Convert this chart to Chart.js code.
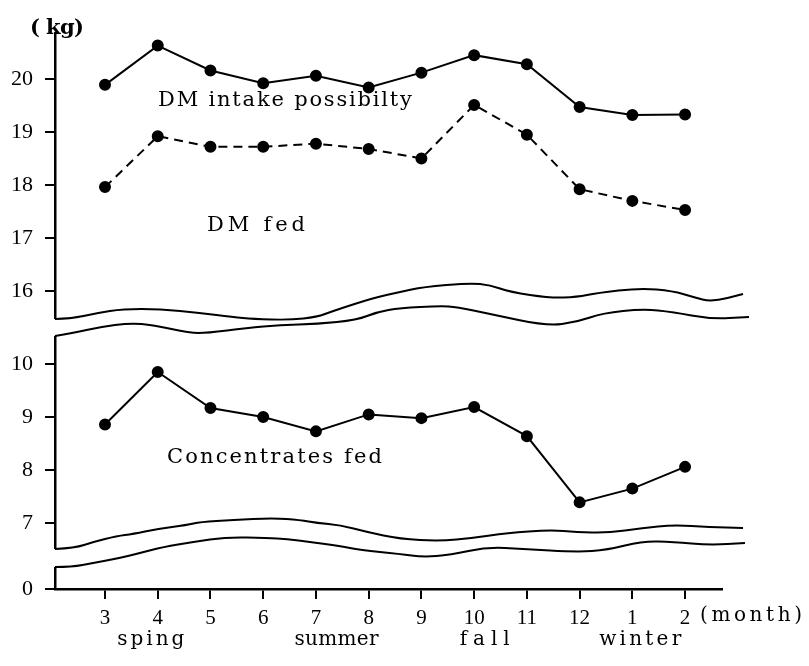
<!DOCTYPE html>
<html>
<head>
<meta charset="utf-8">
<script src="https://cdn.jsdelivr.net/npm/chart.js@4/dist/chart.umd.min.js"></script>
<style>
  html, body { margin: 0; padding: 0; background: #fff; }
  #wrap { width: 809px; height: 666px; position: relative; }
</style>
</head>
<body>
<div id="wrap"><canvas id="dmChart"></canvas></div>
<script>
// values
const months = ['3', '4', '5', '6', '7', '8', '9', '10', '11', '12', '1', '2'];
const dmIntakePossibility = [19.89, 20.63, 20.16, 19.92, 20.06, 19.84, 20.12, 20.45, 20.28, 19.47, 19.32, 19.33];
const dmFed = [17.96, 18.92, 18.72, 18.72, 18.78, 18.68, 18.50, 19.51, 18.95, 17.92, 17.70, 17.53];
const concentratesFed = [8.86, 9.85, 9.17, 9.00, 8.73, 9.05, 8.98, 9.19, 8.64, 7.39, 7.65, 8.06];
const upperTicks = [16, 17, 18, 19, 20];
const middleTicks = [7, 8, 9, 10];
const lowerTicks = [0];
const seasons = ['sping', 'summer', 'fall', 'winter'];

const FONT = "'Liberation Serif', 'DejaVu Serif', serif";
const TEXT_FONT = "'DejaVu Serif', 'Liberation Serif', serif";

function toPoints(values) {
    return values.map((v, i) => ({ x: i, y: v }));
}

// wavy break bands (pixel paths, decoration only)
const breakBands = [
    {
        top: [[55,319],[70,319],[97,313],[123,309],[160,309],[200,313],[233,317],[253,319],[290,320],[317,317],[333,311],[373,298],[400,292],[423,287],[470,283],[490,285],[510,292],[550,298],[577,297],[597,293],[640,288],[673,291],[693,297],[712,302],[743,294]],
        bottom: [[55,336],[73,333],[100,327],[130,323],[153,325],[190,333],[207,333],[247,328],[280,325],[317,324],[357,320],[377,312],[400,308],[440,306],[457,307],[490,314],[547,326],[577,322],[603,313],[643,309],[673,312],[710,319],[749,317]]
    },
    {
        top: [[55,549],[75,548],[93,542],[117,536],[133,534],[157,529],[187,525],[200,522],[233,520],[273,518],[300,520],[317,523],[340,525],[367,532],[400,539],[440,541],[473,538],[507,533],[550,530],[577,532],[607,533],[643,528],[673,525],[710,527],[743,528]],
        bottom: [[55,567],[72,567],[93,563],[120,558],[140,553],[163,547],[193,542],[227,537],[267,538],[287,539],[310,542],[340,546],[360,550],[400,554],[423,557],[450,555],[487,547],[523,549],[577,552],[607,550],[643,541],[673,542],[710,545],[745,543]]
    }
];

function tracePath(ctx, pts, moveFirst) {
    if (moveFirst) ctx.moveTo(pts[0][0], pts[0][1]); else ctx.lineTo(pts[0][0], pts[0][1]);
    for (let i = 1; i < pts.length - 1; i++) {
        const mx = (pts[i][0] + pts[i + 1][0]) / 2;
        const my = (pts[i][1] + pts[i + 1][1]) / 2;
        ctx.quadraticCurveTo(pts[i][0], pts[i][1], mx, my);
    }
    const last = pts[pts.length - 1];
    ctx.lineTo(last[0], last[1]);
}

// draw text stretched (by letter spacing) to the width it has in the figure
function fitText(ctx, text, x, y, width, size, weight) {
    ctx.font = (weight || 'normal') + ' ' + size + 'px ' + TEXT_FONT;
    ctx.letterSpacing = '0px';
    const w = ctx.measureText(text).width;
    const n = text.length;
    const sp = n > 1 ? (width - w) / (n - 1) : 0;
    ctx.letterSpacing = sp.toFixed(2) + 'px';
    ctx.fillText(text, x, y);
    ctx.letterSpacing = '0px';
}

const decorPlugin = {
    id: 'decor',
    afterDraw(chart) {
        const ctx = chart.ctx;
        ctx.save();
        // axis breaks
        breakBands.forEach(band => {
            ctx.beginPath();
            ctx.moveTo(50, band.top[0][1]);
            tracePath(ctx, band.top, false);
            tracePath(ctx, band.bottom.slice().reverse(), false);
            ctx.lineTo(50, band.bottom[0][1]);
            ctx.closePath();
            ctx.fillStyle = '#fff';
            ctx.fill();
            ctx.strokeStyle = '#000';
            ctx.lineWidth = 2;
            ctx.lineJoin = 'round';
            [band.top, band.bottom].forEach(pts => {
                ctx.beginPath();
                tracePath(ctx, pts, true);
                ctx.stroke();
            });
        });

        ctx.fillStyle = '#000';
        ctx.textAlign = 'left';
        ctx.textBaseline = 'alphabetic';
        fitText(ctx, '( kg)', 30, 34, 54, 21, 'bold');
        fitText(ctx, 'DM intake possibilty', 158, 106, 254, 21);
        fitText(ctx, 'DM fed', 207, 231, 98, 21);
        fitText(ctx, 'Concentrates fed', 167, 463, 215, 21);
        fitText(ctx, '(month)', 700, 621, 102, 20);

        const x = chart.scales.x;
        const seasonAt = [0.87, 4.39, 7.2, 10.15];
        const seasonWidth = [67, 84, 50, 82];
        seasons.forEach((s, i) => {
            const cx = x.getPixelForValue(seasonAt[i]);
            fitText(ctx, s, cx - seasonWidth[i] / 2, 645, seasonWidth[i], 20);
        });
        ctx.restore();
    }
};

function yScale(ticks, min, max, weight) {
    return {
        type: 'linear',
        position: 'left',
        stack: 'kg',
        stackWeight: weight,
        min: min,
        max: max,
        afterBuildTicks: s => { s.ticks = ticks.map(v => ({ value: v })); },
        afterFit: s => { s.width = 55; },
        grid: { drawOnChartArea: false, color: '#000', tickLength: 10, lineWidth: 2 },
        border: { color: '#000', width: 2.5 },
        ticks: { color: '#000', padding: 12, font: { family: FONT, size: 22 } }
    };
}

const ctx = document.getElementById('dmChart');
new Chart(ctx, {
    type: 'line',
    data: {
        datasets: [
            {
                label: 'DM intake possibilty',
                data: toPoints(dmIntakePossibility),
                yAxisID: 'yTop',
                borderColor: '#000',
                backgroundColor: '#000',
                borderWidth: 2,
                pointRadius: 5,
                tension: 0
            },
            {
                label: 'DM fed',
                data: toPoints(dmFed),
                yAxisID: 'yTop',
                borderColor: '#000',
                backgroundColor: '#000',
                borderWidth: 2,
                borderDash: [9, 6],
                pointRadius: 5,
                tension: 0
            },
            {
                label: 'Concentrates fed',
                data: toPoints(concentratesFed),
                yAxisID: 'yMid',
                borderColor: '#000',
                backgroundColor: '#000',
                borderWidth: 2,
                pointRadius: 5,
                tension: 0
            }
        ]
    },
    options: {
        responsive: true,
        maintainAspectRatio: false,
        animation: false,
        layout: { padding: { top: 33, right: 87, left: 0, bottom: 0 } },
        plugins: {
            legend: { display: false },
            tooltip: { enabled: false }
        },
        scales: {
            x: {
                type: 'linear',
                position: 'bottom',
                min: -0.948,
                max: 11.70,
                afterBuildTicks: s => { s.ticks = months.map((m, i) => ({ value: i })); },
                afterFit: s => { s.height = 77; },
                grid: { drawOnChartArea: false, color: '#000', tickLength: 10, lineWidth: 2 },
                border: { color: '#000', width: 2.5 },
                ticks: {
                    color: '#000',
                    padding: 7,
                    maxRotation: 0,
                    font: { family: FONT, size: 21 },
                    callback: v => months[v]
                }
            },
            yLow: yScale(lowerTicks, 0, 0.585, 31),
            yMid: yScale(middleTicks, 6.34, 10.70, 231),
            yTop: yScale(upperTicks, 15.32, 20.868, 294)
        }
    },
    plugins: [decorPlugin]
});
</script>
</body>
</html>
